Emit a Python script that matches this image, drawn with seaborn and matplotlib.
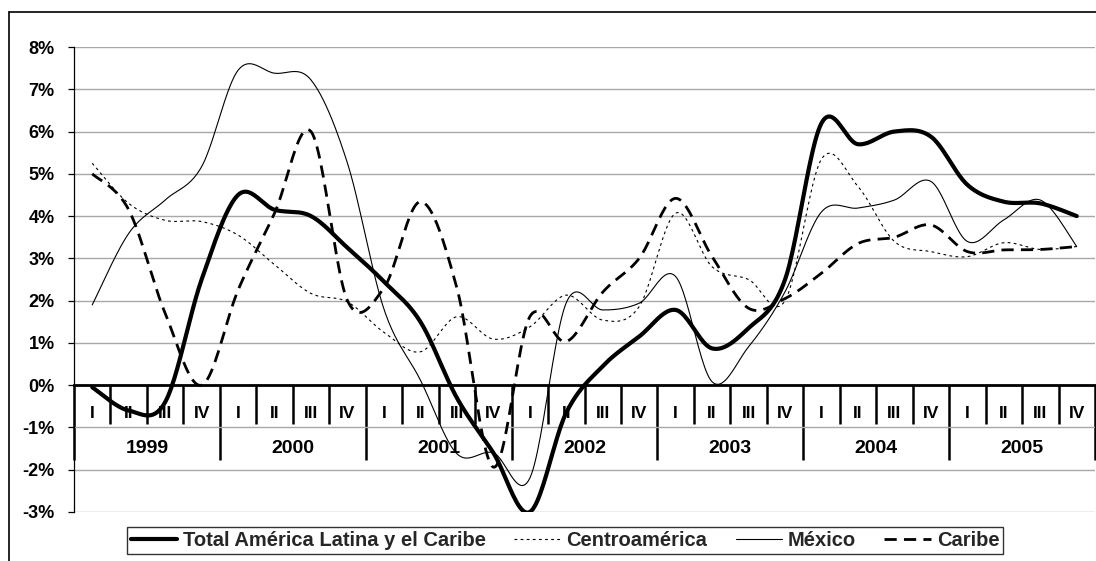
import numpy as np
import pandas as pd
import matplotlib
matplotlib.use("Agg")
import matplotlib.pyplot as plt
import seaborn as sns
from matplotlib.lines import Line2D

years = ['1999', '2000', '2001', '2002', '2003', '2004', '2005']
quarters = ['I', 'II', 'III', 'IV']
yticks = [8, 7, 6, 5, 4, 3, 2, 1, 0, -1, -2, -3]

total = [-0.05, -0.6, -0.4, 2.5, 4.5, 4.15, 4.0, 3.25, 2.45, 1.5, -0.3, -1.6,
         -3.0, -0.65, 0.45, 1.15, 1.78, 0.87, 1.35, 2.5, 6.2, 5.7, 6.0, 5.88,
         4.74, 4.34, 4.3, 4.0]
centro = [5.25, 4.3, 3.9, 3.87, 3.55, 2.85, 2.17, 1.97, 1.25, 0.79, 1.62, 1.09,
          1.38, 2.13, 1.54, 1.86, 4.07, 2.8, 2.5, 2.0, 5.35, 4.7, 3.4, 3.16,
          3.04, 3.37, 3.21, 3.28]
mexico = [1.9, 3.59, 4.38, 5.17, 7.45, 7.38, 7.22, 5.25, 1.8, 0.12, -1.62, -1.6,
          -2.2, 1.95, 1.78, 1.94, 2.57, 0.08, 0.91, 2.21, 4.1, 4.19, 4.38, 4.82,
          3.4, 3.91, 4.38, 3.28]
caribe = [5.0, 4.15, 1.7, 0.0, 2.25, 4.07, 6.0, 2.0, 2.3, 4.34, 2.3, -1.94,
          1.62, 1.03, 2.2, 3.0, 4.42, 3.04, 1.82, 2.05, 2.65, 3.35, 3.5, 3.79,
          3.16, 3.2, 3.21, 3.28]

names = ['Total América Latina y el Caribe', 'Centroamérica', 'México', 'Caribe']
series = [total, centro, mexico, caribe]


def smooth(vals, n=24):
    """Excel-like smoothed line (Bezier through points, Catmull-Rom controls)."""
    y = np.asarray(vals, float)
    x = np.arange(len(y), dtype=float)
    xs, ys = [], []
    m = len(y)
    for i in range(m - 1):
        p0 = i - 1 if i > 0 else i
        p3 = i + 2 if i + 2 < m else i + 1
        c1x = x[i] + (x[i + 1] - x[p0]) / 6
        c1y = y[i] + (y[i + 1] - y[p0]) / 6
        c2x = x[i + 1] - (x[p3] - x[i]) / 6
        c2y = y[i + 1] - (y[p3] - y[i]) / 6
        t = np.linspace(0, 1, n, endpoint=(i == m - 2))
        a, b, c, d = (1 - t) ** 3, 3 * (1 - t) ** 2 * t, 3 * (1 - t) * t ** 2, t ** 3
        xs.append(a * x[i] + b * c1x + c * c2x + d * x[i + 1])
        ys.append(a * y[i] + b * c1y + c * c2y + d * y[i + 1])
    return np.concatenate(xs), np.concatenate(ys)


sns.set_theme(style="white")
plt.rcParams['font.family'] = ['Liberation Sans', 'DejaVu Sans']
plt.rcParams['font.weight'] = 'bold'

fig = plt.figure(figsize=(10.96, 5.61), dpi=100)
W, H = 1096, 561
ax = fig.add_axes([74 / W, 1 - 512 / H, (1095 - 74) / W, (512 - 47) / H])

styles = [
    dict(lw=3.0, ls='-'),
    dict(lw=0.8, ls=(0, (2.5, 3.0))),
    dict(lw=0.8, ls='-'),
    dict(lw=2.0, ls=(0, (4.4, 2.6))),
]

for name, vals, st in zip(names, series, styles):
    sx, sy = smooth(vals)
    df = pd.DataFrame({'x': sx, 'y': sy})
    sns.lineplot(data=df, x='x', y='y', ax=ax, sort=False, estimator=None,
                 color='black', linewidth=st['lw'], linestyle=st['ls'],
                 legend=False, zorder=4)

n = len(total)
ax.set_xlim(-0.5, n - 0.5)
ax.set_ylim(-3, 8)
ax.set_yticks(yticks)
ax.set_yticklabels([f'{v}%' for v in yticks], fontsize=13, fontweight='bold')
ax.yaxis.grid(True, color='#a8a8a8', linewidth=1.0)
ax.xaxis.grid(False)
ax.set_xlabel('')
ax.set_ylabel('')

for s in ['top', 'right']:
    ax.spines[s].set_visible(False)
ax.spines['left'].set_color('black')
ax.spines['left'].set_linewidth(0.9)
ax.spines['bottom'].set_position(('data', 0))
ax.spines['bottom'].set_color('black')
ax.spines['bottom'].set_linewidth(2.0)
ax.spines['bottom'].set_zorder(3)

ax.tick_params(axis='y', left=True, length=4, width=0.9, color='black', pad=10,
               labelcolor='black')
# quarter and year separators hanging below the zero line
ax.set_xticks(np.arange(0, n + 1, 4) - 0.5)
ax.set_xticks(np.arange(0, n + 1) - 0.5, minor=True)
ax.tick_params(axis='x', which='major', direction='out', length=54, width=1.8,
               color='black', bottom=True, labelbottom=False)
ax.tick_params(axis='x', which='minor', direction='out', length=28, width=1.8,
               color='black', bottom=True, labelbottom=False)

for i in range(n):
    ax.text(i, -0.66, quarters[i % 4], ha='center', va='center', fontsize=12.5,
            fontweight='bold', color='black')
for j, yr in enumerate(years):
    ax.text(4 * j + 1.5, -1.5, yr, ha='center', va='center', fontsize=14,
            fontweight='bold', color='black')

handles = [Line2D([0], [0], color='black', linewidth=st['lw'], linestyle=st['ls'])
           for st in styles]
leg = fig.legend(handles, names, loc='center', bbox_to_anchor=(565 / W, 1 - 540.5 / H),
                 ncol=4, frameon=True, fancybox=False, edgecolor='black',
                 prop=dict(size=14.5, weight='bold'), handlelength=2.3,
                 handletextpad=0.3, columnspacing=1.4, borderpad=0.2,
                 borderaxespad=0)
leg.get_frame().set_linewidth(1.0)

# outer chart frame
fig.add_artist(Line2D([9 / W, 9 / W], [0, 1 - 12 / H], color='black', lw=1.2,
                      transform=fig.transFigure))
fig.add_artist(Line2D([9 / W, 1], [1 - 12 / H, 1 - 12 / H], color='black', lw=1.2,
                      transform=fig.transFigure))

fig.savefig('out.png', dpi=100, facecolor='white')
